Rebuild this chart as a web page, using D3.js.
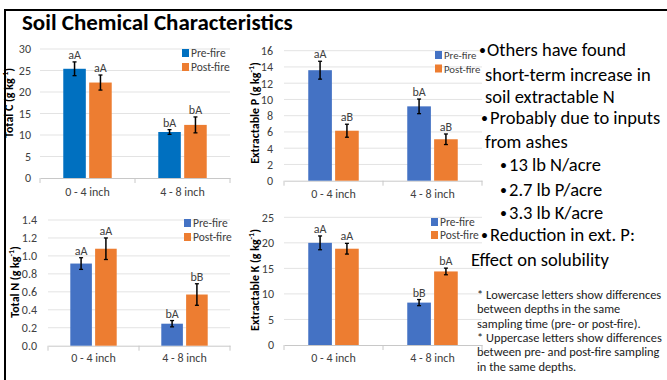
<!DOCTYPE html>
<html><head><meta charset="utf-8">
<script src="https://cdn.jsdelivr.net/npm/d3@7"></script>
<style>
html,body{margin:0;padding:0;background:#fff;}
svg{display:block;font-family:Carlito,Lato,"Open Sans",sans-serif;}
</style></head>
<body><svg id="c" width="667" height="380"></svg>
<script>
// ---- data ----
const categories = ["0 - 4 inch", "4 - 8 inch"];
const seriesNames = ["Pre-fire", "Post-fire"];

const totalC_pre = [25.4, 10.7];
const totalC_post = [22.2, 12.35];
const totalC_preErr = [1.6, 0.55];
const totalC_postErr = [1.75, 1.85];
const totalC_preLetters = ["aA", "bA"];
const totalC_postLetters = ["aA", "bA"];
const totalC_ticks = [0, 5, 10, 15, 20, 25, 30];

const extP_pre = [13.6, 9.15];
const extP_post = [6.15, 5.1];
const extP_preErr = [1.1, 0.9];
const extP_postErr = [0.8, 0.65];
const extP_preLetters = ["aA", "bA"];
const extP_postLetters = ["aB", "aB"];
const extP_ticks = [0, 2, 4, 6, 8, 10, 12, 14, 16];

const totalN_pre = [0.915, 0.245];
const totalN_post = [1.08, 0.57];
const totalN_preErr = [0.065, 0.035];
const totalN_postErr = [0.12, 0.12];
const totalN_preLetters = ["aA", "bA"];
const totalN_postLetters = ["aA", "bB"];
const totalN_ticks = [0, 0.2, 0.4, 0.6, 0.8, 1.0, 1.2, 1.4];

const extK_pre = [20.0, 8.3];
const extK_post = [18.85, 14.4];
const extK_preErr = [1.35, 0.6];
const extK_postErr = [1.05, 0.65];
const extK_preLetters = ["aA", "bB"];
const extK_postLetters = ["aA", "bA"];
const extK_ticks = [0, 5, 10, 15, 20, 25];

const bulletLines = [
  "Others have found", "short-term increase in", "soil extractable N",
  "Probably due to inputs", "from ashes",
  "13 lb N/acre", "2.7 lb P/acre", "3.3 lb K/acre",
  "Reduction in ext. P:", "Effect on solubility"
];
const footnoteLines = [
  "* Lowercase letters show differences",
  "between depths in the same",
  "sampling time (pre- or post-fire).",
  "* Uppercase letters show differences",
  "between pre- and post-fire sampling",
  "in the same depths."
];

// ---- drawing ----
const svg = d3.select("#c");
const FONT = "Carlito,Lato,'Open Sans',sans-serif";

// border
svg.append("line").attr("x1",5).attr("x2",667).attr("y1",10).attr("y2",10).attr("stroke","#000").attr("stroke-width",2);
svg.append("line").attr("x1",5).attr("x2",5).attr("y1",9).attr("y2",380).attr("stroke","#000").attr("stroke-width",2);

svg.append("text").attr("x",22).attr("y",30).attr("font-size",23).attr("font-weight","bold")
  .attr("fill","#000").text("Soil Chemical Characteristics");

function chart(cfg){
  const g = svg.append("g");
  const x = d3.scaleBand().domain(categories).range([cfg.left, cfg.right]).padding(0);
  const y = d3.scaleLinear().domain([0, d3.max(cfg.ticks)]).range([cfg.bottom, cfg.top]);
  const bw = x.bandwidth();
  const groupW = bw * cfg.groupFrac;
  const x1 = d3.scaleBand().domain(seriesNames).range([0, groupW]).paddingInner(cfg.gapFrac);

  // gridlines
  g.append("g").selectAll("line").data(cfg.ticks.filter(t=>t>0)).join("line")
    .attr("x1",cfg.left).attr("x2",cfg.right)
    .attr("y1",d=>y(d)).attr("y2",d=>y(d))
    .attr("stroke","#e3e3e3").attr("stroke-width",1);

  // y axis labels
  const yAxis = d3.axisLeft(y).tickValues(cfg.ticks).tickSize(0).tickPadding(0).tickFormat(cfg.fmt);
  const ya = g.append("g").attr("transform",`translate(${cfg.labelX},0)`).call(yAxis);
  ya.select(".domain").remove();
  ya.selectAll("text").attr("font-family",FONT).attr("font-size",12).attr("fill","#404040");

  // x axis
  const xa = g.append("g").attr("transform",`translate(0,${cfg.bottom})`)
    .call(d3.axisBottom(x).tickSize(0).tickPadding(cfg.catPad));
  xa.select(".domain").attr("stroke","#c8c8c8");
  xa.selectAll("text").attr("font-family",FONT).attr("font-size",12).attr("fill","#404040");
  const bounds = [cfg.left, ...categories.map(c=>x(c)+bw)];
  xa.selectAll(".sep").data(bounds).join("line").attr("class","sep")
    .attr("x1",d=>d).attr("x2",d=>d).attr("y1",0).attr("y2",5).attr("stroke","#c8c8c8");

  const series = [
    {name:"Pre-fire", vals:cfg.pre, err:cfg.preErr, lab:cfg.preL, color:cfg.preColor},
    {name:"Post-fire", vals:cfg.post, err:cfg.postErr, lab:cfg.postL, color:"#ED7D31"}
  ];
  series.forEach(s=>{
    const sg = g.append("g");
    const bx = (i)=> x(categories[i]) + (bw-groupW)/2 + x1(s.name);
    sg.selectAll("rect").data(s.vals).join("rect")
      .attr("x",(d,i)=>bx(i)).attr("width",x1.bandwidth())
      .attr("y",d=>y(d)).attr("height",d=>y(0)-y(d))
      .attr("fill",s.color);
    const cx = (i)=> bx(i)+x1.bandwidth()/2;
    sg.selectAll(".eb").data(s.vals).join("line").attr("class","eb")
      .attr("x1",(d,i)=>cx(i)).attr("x2",(d,i)=>cx(i))
      .attr("y1",(d,i)=>y(d+s.err[i])).attr("y2",(d,i)=>y(d-s.err[i]))
      .attr("stroke","#000").attr("stroke-width",1.5);
    ["hi","lo"].forEach(k=>{
      sg.selectAll(".cap"+k).data(s.vals).join("line").attr("class","cap"+k)
        .attr("x1",(d,i)=>cx(i)-2).attr("x2",(d,i)=>cx(i)+2)
        .attr("y1",(d,i)=>y(k==="hi"? d+s.err[i] : d-s.err[i]))
        .attr("y2",(d,i)=>y(k==="hi"? d+s.err[i] : d-s.err[i]))
        .attr("stroke","#000").attr("stroke-width",1.3);
    });
    sg.selectAll(".lab").data(s.vals).join("text").attr("class","lab")
      .attr("x",(d,i)=>cx(i)).attr("y",(d,i)=>y(d+s.err[i])-3)
      .attr("text-anchor","middle").attr("font-family",FONT).attr("font-size",12).attr("fill","#404040")
      .text((d,i)=>s.lab[i]);
  });

  // legend
  series.forEach((s,i)=>{
    const ly = cfg.legY + i*cfg.legStep;
    g.append("rect").attr("x",cfg.legX).attr("y",ly-4).attr("width",7).attr("height",8).attr("fill",s.color);
    g.append("text").attr("x",cfg.legX+9).attr("y",ly+4).attr("font-family",FONT).attr("font-size",cfg.legFs)
      .attr("fill","#404040").text(s.name);
  });

  // y title
  const t = g.append("text").attr("transform",`translate(${cfg.titleX},${cfg.titleY}) rotate(-90)`)
    .attr("text-anchor","middle").attr("font-family",FONT).attr("font-size",12).attr("font-weight","bold").attr("fill","#000");
  t.append("tspan").text(cfg.title + " (g  kg");
  t.append("tspan").attr("font-size",8).attr("dy",-5).text("-1");
  t.append("tspan").attr("dy",5).text(")");
}

chart({left:40,right:230,top:49,bottom:178,labelX:31,ticks:totalC_ticks,fmt:d3.format("d"),
  pre:totalC_pre,post:totalC_post,preErr:totalC_preErr,postErr:totalC_postErr,
  preL:totalC_preLetters,postL:totalC_postLetters,preColor:"#0070C0",
  groupFrac:0.51,gapFrac:0.13,catPad:9,legX:182,legY:53,legStep:14,legFs:11.5,
  title:"Total C",titleX:13,titleY:103});

chart({left:284,right:482,top:50.7,bottom:180.7,labelX:273,ticks:extP_ticks,fmt:d3.format("d"),
  pre:extP_pre,post:extP_post,preErr:extP_preErr,postErr:extP_postErr,
  preL:extP_preLetters,postL:extP_postLetters,preColor:"#4472C4",
  groupFrac:0.51,gapFrac:0.12,catPad:9,legX:435,legY:55,legStep:13.5,legFs:10.8,
  title:"Extractable P",titleX:259,titleY:113});

chart({left:48,right:230,top:220,bottom:345.7,labelX:37,ticks:totalN_ticks,fmt:d3.format(".1f"),
  pre:totalN_pre,post:totalN_post,preErr:totalN_preErr,postErr:totalN_postErr,
  preL:totalN_preLetters,postL:totalN_postLetters,preColor:"#4472C4",
  groupFrac:0.51,gapFrac:0.13,catPad:8,legX:184,legY:223,legStep:14,legFs:11.5,
  title:"Total N",titleX:19,titleY:282});

chart({left:284,right:482,top:217.3,bottom:345,labelX:274,ticks:extK_ticks,fmt:d3.format("d"),
  pre:extK_pre,post:extK_post,preErr:extK_preErr,postErr:extK_postErr,
  preL:extK_preLetters,postL:extK_postLetters,preColor:"#4472C4",
  groupFrac:0.51,gapFrac:0.12,catPad:8,legX:431,legY:222,legStep:13,legFs:11.5,
  title:"Extractable K",titleX:259,titleY:280});

// right text
const bl = [
  {x:487,bx:479,y:56},{x:485,y:81},{x:485,y:103},
  {x:490,bx:481,y:124},{x:485,y:148},
  {x:509,bx:500,y:171},{x:509,bx:500,y:196},{x:509,bx:500,y:219},
  {x:490,bx:481,y:241},{x:471,y:266}
];
const rt = svg.append("g").attr("font-family",FONT).attr("fill","#000");
rt.selectAll(".bt").data(bulletLines).join("text").attr("class","bt")
  .attr("x",(d,i)=>bl[i].x).attr("y",(d,i)=>bl[i].y).attr("font-size",18.5).text(d=>d);
rt.selectAll(".bu").data(bl.filter(b=>b.bx)).join("text").attr("class","bu")
  .attr("x",d=>d.bx).attr("y",d=>d.y-1).attr("font-size",14).text("•");
rt.selectAll(".fn").data(footnoteLines).join("text").attr("class","fn")
  .attr("x",477).attr("y",(d,i)=>299+i*14.3).attr("font-size",12.4).attr("fill","#222").text(d=>d);
</script></body></html>
